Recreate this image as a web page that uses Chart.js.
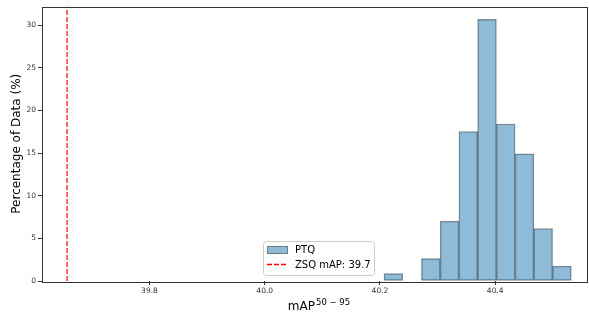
<!DOCTYPE html>
<html>
<head>
<meta charset="utf-8">
<title>PTQ mAP Histogram</title>
<script src="https://cdn.jsdelivr.net/npm/chart.js@4.4.1/dist/chart.umd.min.js"></script>
<style>
    body { margin: 0; background: #fff; }
    #wrap { position: relative; width: 589px; height: 320px; }
</style>
</head>
<body>
<div id="wrap"><canvas id="histChart"></canvas></div>
<script>
// --- Daten ---

const binEdges = [40.207, 40.2395, 40.272, 40.3045, 40.337, 40.3695, 40.402, 40.4345, 40.467, 40.4995, 40.532];
const ptqPercent = [0.88, 0, 2.63, 7.02, 17.54, 30.70, 18.42, 14.91, 6.14, 1.75];
const zsqMap = 39.657;
const xTicks = [39.8, 40.0, 40.2, 40.4];
const yTicks = [0, 5, 10, 15, 20, 25, 30];
const xRange = [39.6135, 40.561];
const yRange = [0, 32.2];

const FONT = "'DejaVu Sans', sans-serif";
const barFill = "rgba(31, 119, 180, 0.5)";
const barEdge = "rgba(0, 0, 0, 0.45)";

// Balken in Bin-Mitte
const ptqPoints = ptqPercent.map((v, i) => ({ x: (binEdges[i] + binEdges[i + 1]) / 2, y: v }));

// --- Plugins ---

const framePlugin = {
    id: "frame",
    afterDatasetsDraw(chart) {
        const { ctx, chartArea: a } = chart;
        ctx.save();
        ctx.strokeStyle = "#333";
        ctx.lineWidth = 1;
        ctx.strokeRect(Math.round(a.left) + 0.5, Math.round(a.top) + 0.5,
            Math.round(a.right - a.left) - 1, Math.round(a.bottom - a.top));
        ctx.restore();
    }
};

const titlesPlugin = {
    id: "titles",
    afterDraw(chart) {
        const ctx = chart.ctx;
        const a = chart.chartArea;
        ctx.save();
        ctx.fillStyle = "#000";

        // y-Achsentitel
        ctx.translate(16.5, (a.top + a.bottom) / 2);
        ctx.rotate(-Math.PI / 2);
        ctx.font = "12px " + FONT;
        ctx.textAlign = "center";
        ctx.textBaseline = "middle";
        ctx.fillText("Percentage of Data (%)", 0, 0);
        ctx.setTransform(1, 0, 0, 1, 0, 0);

        // x-Achsentitel mit Hochstellung
        ctx.textAlign = "left";
        ctx.textBaseline = "alphabetic";
        ctx.font = "12px " + FONT;
        const base = "mAP";
        const sup = "50 \u2212 95";
        const wBase = ctx.measureText(base).width;
        ctx.font = "8.5px " + FONT;
        const wSup = ctx.measureText(sup).width;
        const x0 = 319 - (wBase + wSup + 1) / 2;
        ctx.font = "12px " + FONT;
        ctx.fillText(base, x0, 310);
        ctx.font = "8.5px " + FONT;
        ctx.fillText(sup, x0 + wBase + 1, 305);
        ctx.restore();
    }
};

const legendPlugin = {
    id: "boxLegend",
    afterDraw(chart) {
        const ctx = chart.ctx;
        const ds = chart.data.datasets;
        ctx.save();
        // Rahmen
        ctx.beginPath();
        ctx.roundRect(263.5, 241.5, 111, 34, 3);
        ctx.fillStyle = "rgba(255, 255, 255, 0.8)";
        ctx.fill();
        ctx.strokeStyle = "#ccc";
        ctx.lineWidth = 1;
        ctx.stroke();

        // Eintrag 1: Balken
        ctx.fillStyle = ds[0].backgroundColor;
        ctx.fillRect(267.5, 246.5, 20, 7);
        ctx.strokeStyle = ds[0].borderColor;
        ctx.strokeRect(267.5, 246.5, 20, 7);

        // Eintrag 2: gestrichelte Linie
        ctx.beginPath();
        ctx.setLineDash([5, 2]);
        ctx.strokeStyle = ds[1].borderColor;
        ctx.lineWidth = 1.3;
        ctx.moveTo(267, 264.5);
        ctx.lineTo(288, 264.5);
        ctx.stroke();
        ctx.setLineDash([]);

        ctx.fillStyle = "#000";
        ctx.font = "10px " + FONT;
        ctx.textBaseline = "middle";
        ctx.fillText(ds[0].label, 295, 250.5);
        ctx.fillText(ds[1].label, 295, 265);
        ctx.restore();
    }
};

// --- Diagramm ---

function renderChart() {
    const ctx = document.getElementById("histChart").getContext("2d");
    new Chart(ctx, {
        data: {
            datasets: [{
                type: "bar",
                label: "PTQ",
                data: ptqPoints,
                backgroundColor: barFill,
                borderColor: barEdge,
                borderWidth: 0.8,
                borderSkipped: false,
                barPercentage: 1,
                categoryPercentage: 1,
                grouped: false,
                order: 2
            }, {
                type: "line",
                label: "ZSQ mAP: " + zsqMap.toFixed(1),
                data: [{ x: zsqMap, y: yRange[0] }, { x: zsqMap, y: yRange[1] }],
                borderColor: "red",
                borderWidth: 1.2,
                borderDash: [5, 2],
                pointRadius: 0,
                fill: false,
                order: 1
            }]
        },
        options: {
            responsive: true,
            maintainAspectRatio: false,
            animation: false,
            layout: { padding: { top: 6, right: 1, left: 0, bottom: 0 } },
            plugins: {
                legend: { display: false },
                tooltip: { enabled: false }
            },
            scales: {
                x: {
                    type: "linear",
                    min: xRange[0],
                    max: xRange[1],
                    offset: false,
                    afterBuildTicks: (scale) => { scale.ticks = xTicks.map(v => ({ value: v })); },
                    afterFit: (scale) => { scale.height = 39; },
                    ticks: {
                        callback: (v) => Number(v).toFixed(1),
                        color: "#333",
                        font: { family: FONT, size: 7.5 },
                        padding: 2,
                        maxRotation: 0,
                        autoSkip: false
                    },
                    grid: { offset: false, drawOnChartArea: false, drawTicks: true, tickLength: 4, color: "#333" },
                    border: { display: false }
                },
                y: {
                    min: yRange[0],
                    max: yRange[1],
                    afterBuildTicks: (scale) => { scale.ticks = yTicks.map(v => ({ value: v })); },
                    afterFit: (scale) => { scale.width = 42; },
                    ticks: {
                        color: "#333",
                        font: { family: FONT, size: 7.5 },
                        padding: 2
                    },
                    grid: { drawOnChartArea: false, drawTicks: true, tickLength: 4, color: "#333" },
                    border: { display: false }
                }
            }
        },
        plugins: [framePlugin, titlesPlugin, legendPlugin]
    });
}

document.addEventListener("DOMContentLoaded", function() {
    renderChart();
});
</script>
</body>
</html>
